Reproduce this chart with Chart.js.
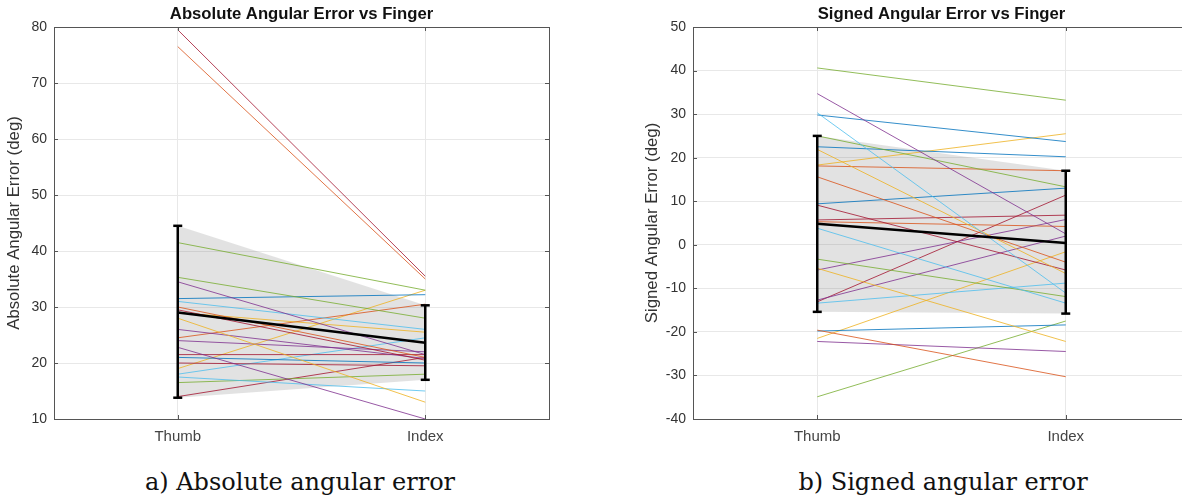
<!DOCTYPE html>
<html>
<head>
<meta charset="utf-8">
<script src="https://cdn.jsdelivr.net/npm/chart.js@4.4.0/dist/chart.umd.min.js"></script>
<style>
  html, body { margin: 0; padding: 0; background: #fff; overflow: hidden; width: 1182px; height: 502px; }
  .panel { position: absolute; top: 0; }
  .caption { position: absolute; top: 468px; font-family: 'DejaVu Serif', serif; font-size: 24px; color: #111; white-space: nowrap; transform: translateX(-50%); }
</style>
</head>
<body>
<canvas id="abs-chart" class="panel" style="left:0;width:560px;height:450px"></canvas>
<canvas id="sgn-chart" class="panel" style="left:590px;width:610px;height:450px"></canvas>
<div class="caption" style="left:300px">a) Absolute angular error</div>
<div class="caption" style="left:943px">b) Signed angular error</div>
<script>
// x categories
const fingers = ['Thumb', 'Index'];

// Absolute angular error, one value per participant
const absThumb = [79.5, 76.5, 41.5, 35.3, 34.5, 31.5, 31.0, 30.0, 29.5, 29.0, 28.0, 26.0, 24.5, 24.0, 22.8, 21.5, 21.0, 20.0, 19.0, 18.0, 17.5, 16.5, 14.0];
const absIndex = [35.5, 35.0, 33.0, 28.0, 21.5, 32.2, 26.0, 21.0, 20.5, 25.5, 13.0, 20.8, 30.5, 22.0, 10.0, 21.5, 20.0, 19.5, 33.0, 24.5, 15.0, 18.0, 21.0];
const absMean = [29.0, 23.6];
const absLow = [13.8, 17.0];
const absHigh = [44.5, 30.3];
const absTicks = [10, 20, 30, 40, 50, 60, 70, 80];

// Signed angular error
const sgnThumb = [40.6, 34.7, 30.3, 29.8, 25.0, 22.5, 21.9, 18.3, 18.1, 15.6, 9.4, 9.1, 5.7, 5.3, 3.8, -3.3, -5.4, -5.8, -12.7, -13.1, -13.4, -19.6, -19.8, -21.5, -22.2, -34.9];
const sgnIndex = [33.2, 2.5, -11.1, 23.7, 13.3, 20.2, -6.6, 25.5, 17.0, -4.0, 13.0, -5.8, 6.8, 4.2, -13.4, -11.9, -22.2, 5.8, 2.0, 11.4, -8.8, -30.3, -18.4, -1.6, -24.5, -17.5];
const sgnMean = [4.8, 0.4];
const sgnLow = [-15.4, -15.8];
const sgnHigh = [25.0, 17.0];
const sgnTicks = [-40, -30, -20, -10, 0, 10, 20, 30, 40, 50];

// cores (MATLAB default colour order)
const palette = {
    blue: '0,114,189', orange: '217,83,25', yellow: '237,177,32', purple: '126,47,142',
    green: '119,172,48', lightblue: '77,190,238', darkred: '162,20,47'
};
const absColours = ['darkred', 'orange', 'green', 'green', 'purple', 'blue', 'lightblue', 'orange', 'darkred', 'yellow', 'yellow', 'purple',
    'orange', 'purple', 'purple', 'darkred', 'blue', 'darkred', 'yellow', 'lightblue', 'lightblue', 'green', 'darkred'];
const sgnColours = ['green', 'purple', 'lightblue', 'blue', 'green', 'blue', 'yellow', 'yellow', 'orange', 'orange', 'blue', 'darkred', 'darkred',
    'orange', 'lightblue', 'green', 'yellow', 'purple', 'purple', 'darkred', 'lightblue', 'orange', 'blue', 'yellow', 'purple', 'green'];

const sans = '"Liberation Sans", Arial, sans-serif';

function buildDatasets(thumb, index, colours, mean, low, high) {
    const sets = [];
    // barras de erro primeiro (ficam por cima)
    [0, 1].forEach(k => {
        sets.push({
            data: [{ x: k + 1, y: low[k] }, { x: k + 1, y: high[k] }],
            borderColor: '#000', borderWidth: 2.5,
            pointStyle: 'line', pointRadius: 4.5, pointBorderWidth: 2.5, pointBorderColor: '#000',
            fill: false
        });
    });
    sets.push({
        data: [{ x: 1, y: mean[0] }, { x: 2, y: mean[1] }],
        borderColor: '#000', borderWidth: 2.5, pointRadius: 0, fill: false
    });
    thumb.forEach((t, i) => {
        sets.push({
            data: [{ x: 1, y: t }, { x: 2, y: index[i] }],
            borderColor: `rgba(${palette[colours[i]]},0.8)`, borderWidth: 1, pointRadius: 0, fill: false
        });
    });
    // faixa cinza
    sets.push({
        data: [{ x: 1, y: high[0] }, { x: 2, y: high[1] }],
        borderWidth: 0, pointRadius: 0, backgroundColor: 'rgba(110,110,110,0.2)', fill: '+1'
    });
    sets.push({
        data: [{ x: 1, y: low[0] }, { x: 2, y: low[1] }],
        borderWidth: 0, pointRadius: 0, fill: false
    });
    return sets;
}

// caixa, marcas internas e título
const frame = {
    id: 'frame',
    afterDraw(chart, args, opts) {
        const { ctx, chartArea: a, scales } = chart;
        ctx.save();
        ctx.strokeStyle = '#555';
        ctx.lineWidth = 1;
        ctx.strokeRect(a.left + 0.5, a.top + 0.5, a.right - a.left, a.bottom - a.top);
        ctx.beginPath();
        opts.ticks.forEach(v => {
            const y = Math.round(scales.y.getPixelForValue(v)) + 0.5;
            ctx.moveTo(a.left, y); ctx.lineTo(a.left + 4, y);
            ctx.moveTo(a.right, y); ctx.lineTo(a.right - 4, y);
        });
        [1, 2].forEach(v => {
            const x = Math.round(scales.x.getPixelForValue(v)) + 0.5;
            ctx.moveTo(x, a.bottom); ctx.lineTo(x, a.bottom - 4);
            ctx.moveTo(x, a.top); ctx.lineTo(x, a.top + 4);
        });
        ctx.stroke();
        ctx.fillStyle = '#111';
        ctx.font = 'bold 16.7px ' + sans;
        ctx.textAlign = 'center';
        ctx.textBaseline = 'middle';
        ctx.fillText(opts.title, (a.left + a.right) / 2, 14);
        ctx.restore();
    }
};

function makeChart(id, cfg) {
    const ctx = document.getElementById(id).getContext('2d');
    return new Chart(ctx, {
        type: 'line',
        data: { datasets: buildDatasets(cfg.thumb, cfg.index, cfg.colours, cfg.mean, cfg.low, cfg.high) },
        plugins: [frame],
        options: {
            responsive: false,
            animation: false,
            layout: { padding: { top: 27, right: cfg.padRight, left: cfg.padLeft, bottom: 0 } },
            plugins: {
                legend: { display: false },
                tooltip: { enabled: false },
                frame: { title: cfg.title, ticks: cfg.ticks }
            },
            scales: {
                x: {
                    type: 'linear', min: 0.5, max: 2.5,
                    afterBuildTicks: s => { s.ticks = [{ value: 1 }, { value: 2 }]; },
                    afterFit: s => { s.height = 31; },
                    grid: { color: '#e8e8e8', drawTicks: false },
                    border: { display: false },
                    ticks: {
                        padding: 9, color: '#444',
                        font: { size: 15, family: sans },
                        callback: v => fingers[v - 1]
                    }
                },
                y: {
                    type: 'linear', min: cfg.ticks[0], max: cfg.ticks[cfg.ticks.length - 1],
                    afterBuildTicks: s => { s.ticks = cfg.ticks.map(v => ({ value: v })); },
                    afterFit: s => { s.width = cfg.yWidth; },
                    grid: { color: '#e8e8e8', drawTicks: false },
                    border: { display: false },
                    ticks: {
                        padding: 7, color: '#333',
                        font: { size: 14, family: sans }
                    },
                    title: {
                        display: true, text: cfg.yTitle, color: '#333', padding: { top: 0, bottom: 0 },
                        font: { size: 16.8, family: sans }
                    }
                }
            }
        }
    });
}

document.getElementById('abs-chart').width = 560;
document.getElementById('abs-chart').height = 450;
document.getElementById('sgn-chart').width = 610;
document.getElementById('sgn-chart').height = 450;

makeChart('abs-chart', {
    thumb: absThumb, index: absIndex, colours: absColours, mean: absMean, low: absLow, high: absHigh,
    ticks: absTicks, title: 'Absolute Angular Error vs Finger', yTitle: 'Absolute Angular Error (deg)',
    padLeft: 4, padRight: 11, yWidth: 50
});
makeChart('sgn-chart', {
    thumb: sgnThumb, index: sgnIndex, colours: sgnColours, mean: sgnMean, low: sgnLow, high: sgnHigh,
    ticks: sgnTicks, title: 'Signed Angular Error vs Finger', yTitle: 'Signed Angular Error (deg)',
    padLeft: 52, padRight: 10, yWidth: 51
});
</script>
</body>
</html>
